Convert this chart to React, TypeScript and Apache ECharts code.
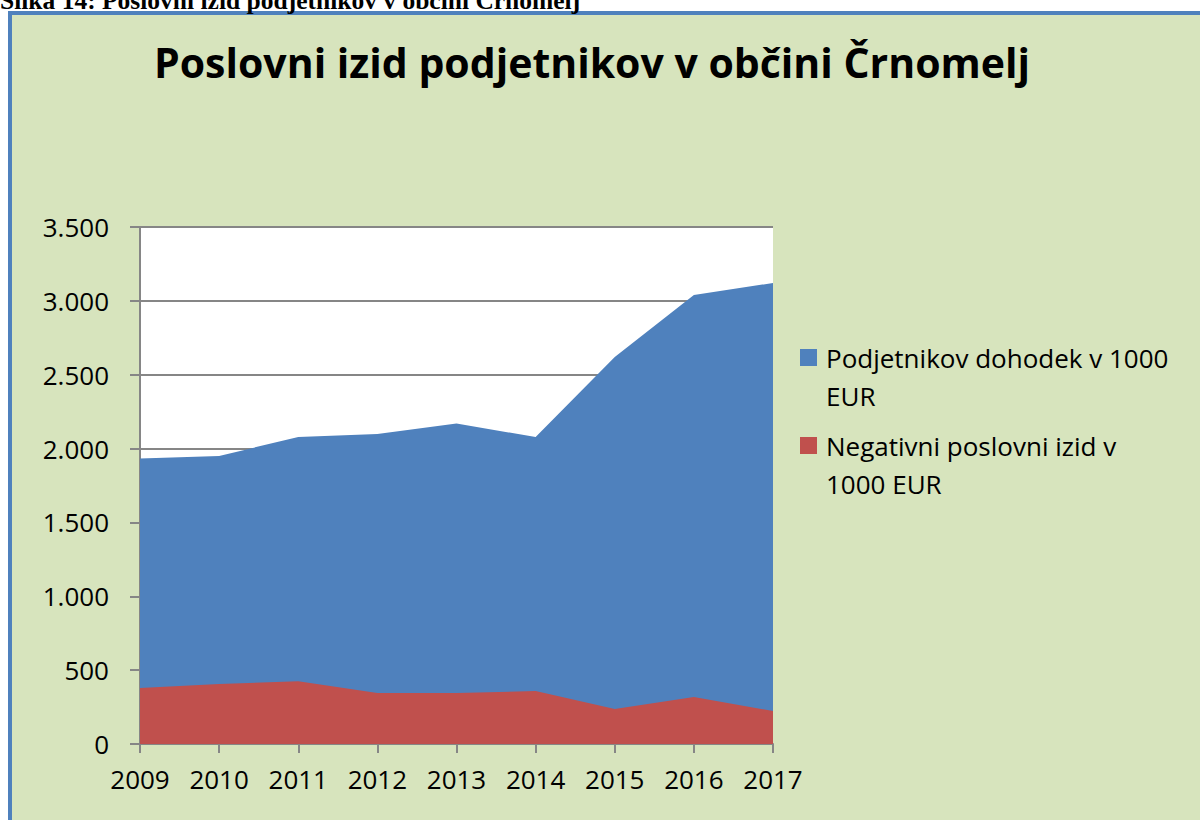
import React, { useEffect, useRef } from "react";
import * as echarts from "echarts";

const years = ["2009", "2010", "2011", "2012", "2013", "2014", "2015", "2016", "2017"];
const dohodek = [1932, 1950, 2078, 2099, 2170, 2078, 2620, 3040, 3121];
const negativni = [379, 406, 425, 345, 345, 359, 237, 318, 223];
const seriesNames = ["Podjetnikov dohodek v 1000 EUR", "Negativni poslovni izid v 1000 EUR"];
const legendLines = [
  ["Podjetnikov dohodek v 1000", "EUR"],
  ["Negativni poslovni izid v", "1000 EUR"],
];
const seriesColors = ["#4F81BD", "#C0504D"];
const yTicks = { min: 0, max: 3500, interval: 500 };
const chartTitle = "Poslovni izid podjetnikov v občini Črnomelj";
const caption = "Slika 14: Poslovni izid podjetnikov v občini Črnomelj";

const FONT = "'Open Sans', sans-serif";

export default function App() {
  const ref = useRef<HTMLDivElement>(null);
  useEffect(() => {
    if (!ref.current) return;
    const chart = echarts.init(ref.current, undefined, { renderer: "svg" });
    const legendGraphics: any[] = [];
    const legendTop = [349, 437];
    legendLines.forEach((lines, i) => {
      legendGraphics.push({
        type: "rect",
        shape: { x: 800, y: legendTop[i], width: 17, height: 17 },
        style: { fill: seriesColors[i] },
      });
      legendGraphics.push({
        type: "text",
        x: 826,
        y: legendTop[i] + 8.5 - 19,
        style: {
          text: lines.join("\n"),
          font: `26px ${FONT}`,
          fill: "#000",
          lineHeight: 38,
          verticalAlign: "top",
        },
      });
    });

    chart.setOption({
      animation: false,
      backgroundColor: "#ffffff",
      graphic: [
        {
          type: "text",
          x: 0,
          y: 13,
          style: {
            text: caption,
            font: `bold 25.5px 'Liberation Serif', 'Times New Roman', serif`,
            fill: "#000",
            verticalAlign: "bottom",
          },
        },
        {
          type: "rect",
          z: -10,
          shape: { x: 10, y: 13, width: 1200, height: 820 },
          style: { fill: "#D7E4BD", stroke: "#4F81BD", lineWidth: 4 },
        },
        {
          type: "text",
          x: 592,
          y: 62,
          style: {
            text: chartTitle,
            font: `bold 41px ${FONT}`,
            fill: "#000",
            align: "center",
            verticalAlign: "middle",
          },
        },
        ...legendGraphics,
      ],
      grid: {
        left: 140,
        right: 427,
        top: 227,
        bottom: 76,
        show: true,
        backgroundColor: "#ffffff",
        borderWidth: 0,
      },
      xAxis: {
        type: "category",
        data: years,
        boundaryGap: false,
        axisLine: { lineStyle: { color: "#868686", width: 2 } },
        axisTick: { show: true, length: 9, lineStyle: { color: "#868686", width: 2 } },
        axisLabel: { color: "#000", fontSize: 26, fontFamily: FONT, margin: 22 },
        splitLine: { show: false },
      },
      yAxis: {
        type: "value",
        min: yTicks.min,
        max: yTicks.max,
        interval: yTicks.interval,
        axisLine: { show: true, lineStyle: { color: "#868686", width: 2 } },
        axisTick: { show: true, length: 10, lineStyle: { color: "#868686", width: 2 } },
        axisLabel: {
          color: "#000",
          fontSize: 26,
          fontFamily: FONT,
          margin: 31,
          formatter: (v: number) => {
            const s = String(v);
            return s.length > 3 ? s.slice(0, s.length - 3) + "." + s.slice(-3) : s;
          },
        },
        splitLine: { show: true, lineStyle: { color: "#868686", width: 2 } },
      },
      series: [
        {
          name: seriesNames[0],
          type: "line",
          data: dohodek,
          symbol: "none",
          lineStyle: { width: 0 },
          areaStyle: { color: seriesColors[0], opacity: 1 },
          itemStyle: { color: seriesColors[0] },
          z: 3,
        },
        {
          name: seriesNames[1],
          type: "line",
          data: negativni,
          symbol: "none",
          lineStyle: { width: 0 },
          areaStyle: { color: seriesColors[1], opacity: 1 },
          itemStyle: { color: seriesColors[1] },
          z: 4,
        },
      ],
    });
    return () => chart.dispose();
  }, []);
  return (
    <div
      ref={ref}
      style={{ position: "absolute", left: 0, top: 0, width: 1200, height: 820 }}
    />
  );
}
